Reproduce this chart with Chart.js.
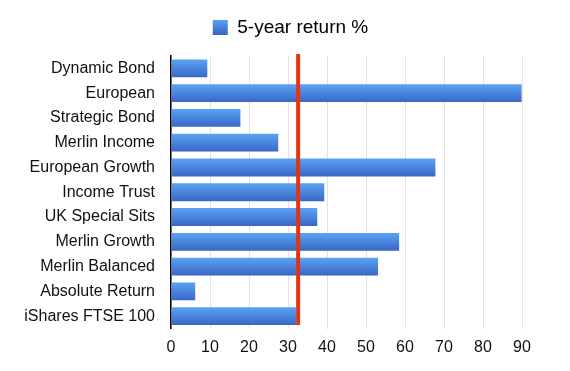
<!DOCTYPE html>
<html>
<head>
<meta charset="utf-8">
<script src="https://cdn.jsdelivr.net/npm/chart.js@4/dist/chart.umd.min.js"></script>
<style>
  html, body { margin: 0; padding: 0; background: #fff; }
  #wrap { width: 570px; height: 371px; }
</style>
</head>
<body>
<div id="wrap"><canvas id="chart"></canvas></div>
<script>
// fund names, top to bottom
const funds = [
	"Dynamic Bond",
	"European",
	"Strategic Bond",
	"Merlin Income",
	"European Growth",
	"Income Trust",
	"UK Special Sits",
	"Merlin Growth",
	"Merlin Balanced",
	"Absolute Return",
	"iShares FTSE 100"
]
const returns5y = [9.3, 89.9, 17.8, 27.5, 67.8, 39.3, 37.5, 58.5, 53.1, 6.2, 32.2]
// benchmark marker (red line)
const benchmark = 32.6
const xTicks = [0, 10, 20, 30, 40, 50, 60, 70, 80, 90]

const FONT = "'Liberation Sans', Arial, Helvetica, sans-serif"
const TOP_BLUE = '#5aa3f4'
const BOTTOM_BLUE = '#3967c6'
const BAR_PCT = 0.72

const barFill = (ctx) => {
	const chart = ctx.chart
	const area = chart.chartArea
	const y = chart.scales.y
	if (!area || !y || ctx.type !== 'data') return '#4a86de'
	const h = (area.bottom - area.top) / funds.length * BAR_PCT
	const top = y.getPixelForValue(ctx.dataIndex) - h / 2
	const g = chart.ctx.createLinearGradient(0, top, 0, top + h)
	g.addColorStop(0, TOP_BLUE)
	g.addColorStop(1, BOTTOM_BLUE)
	return g
}

const benchmarkLine = {
	id: 'benchmarkLine',
	beforeLayout(chart) {
		// extra gap under the legend
		const lg = chart.legend
		if (lg && !lg._patched) {
			const fit = lg.fit.bind(lg)
			lg.fit = function () { fit(); this.height += 9 }
			lg._patched = true
		}
	},
	afterDatasetsDraw(chart) {
		const x = chart.scales.x.getPixelForValue(benchmark)
		const bars = chart.getDatasetMeta(0).data
		const last = bars[bars.length - 1]
		const bottom = last.y + last.height / 2
		const c = chart.ctx
		c.save()
		c.strokeStyle = '#e4330f'
		c.lineWidth = 4
		c.beginPath()
		c.moveTo(x, chart.chartArea.top - 2)
		c.lineTo(x, bottom)
		c.stroke()
		c.restore()
	}
}

new Chart(document.getElementById('chart'), {
	type: 'bar',
	data: {
		labels: funds,
		datasets: [{
			label: '5-year return %',
			data: returns5y,
			backgroundColor: barFill,
			borderWidth: 0,
			categoryPercentage: 1,
			barPercentage: BAR_PCT
		}]
	},
	options: {
		indexAxis: 'y',
		responsive: true,
		maintainAspectRatio: false,
		animation: false,
		layout: { padding: { left: 11, right: 0, top: 4, bottom: 0 } },
		plugins: {
			tooltip: { enabled: false },
			legend: {
				position: 'top',
				labels: {
					boxWidth: 15,
					boxHeight: 15,
					font: { family: FONT, size: 19 },
					color: '#111',
					padding: 14,
					generateLabels: (chart) => {
						const g = chart.ctx.createLinearGradient(0, 19, 0, 34)
						g.addColorStop(0, TOP_BLUE)
						g.addColorStop(1, BOTTOM_BLUE)
						return [{
							text: chart.data.datasets[0].label,
							fillStyle: g,
							strokeStyle: 'rgba(0,0,0,0)',
							lineWidth: 0,
							datasetIndex: 0
						}]
					}
				}
			}
		},
		scales: {
			x: {
				min: 0,
				max: 90,
				afterBuildTicks: (s) => { s.ticks = xTicks.map(v => ({ value: v })) },
				afterFit: (s) => { s.height = 42.5 },
				grid: { color: '#e3e3e3', lineWidth: 1, drawTicks: false },
				border: { display: false },
				ticks: {
					font: { family: FONT, size: 16 },
					color: '#111',
					padding: 9
				}
			},
			y: {
				afterFit: (s) => { s.width = 160 },
				grid: { display: false, drawTicks: false },
				border: { display: true, color: '#000', width: 1.5 },
				ticks: {
					font: { family: FONT, size: 16 },
					color: '#111',
					padding: 16
				}
			},
			// empty right-hand gutter
			y2: {
				type: 'category',
				position: 'right',
				afterFit: (s) => { s.width = 48 },
				grid: { display: false, drawTicks: false },
				border: { display: false },
				ticks: { display: false }
			}
		}
	},
	plugins: [benchmarkLine]
})
</script>
</body>
</html>
